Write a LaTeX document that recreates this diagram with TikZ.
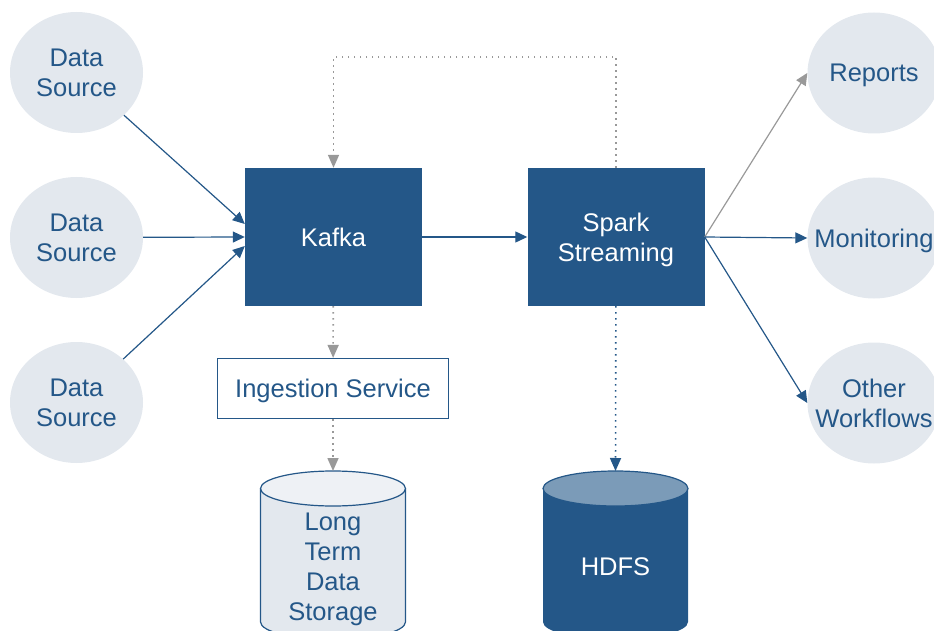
\documentclass[tikz,border=0pt]{standalone}
\usepackage{fontspec}
\setmainfont{Liberation Sans}
\usetikzlibrary{shapes.geometric,arrows.meta}

\definecolor{kblue}{HTML}{245788}
\definecolor{kpale}{HTML}{E3E8EE}
\definecolor{kpaletop}{HTML}{EEF1F5}
\definecolor{ktop}{HTML}{7B9BB8}
\definecolor{kgray}{HTML}{999999}

\tikzset{
  bubble/.style={ellipse, fill=kpale, minimum width=133pt, minimum height=121pt, inner xsep=-30pt, inner ysep=0pt, text depth=0pt, align=center, text=kblue},
  darkbox/.style={rectangle, fill=kblue, minimum width=177pt, minimum height=138pt, inner sep=0pt, text depth=0pt, align=center, text=white},
  flow/.style={draw=kblue, line width=1.2pt, -{Triangle[length=12pt,width=11pt]}},
  dotflow/.style={draw=kgray, line width=1.6pt, dash pattern=on 1.4pt off 4.6pt, -{Triangle[length=13pt,width=11pt]}}
}

\begin{document}
\begin{tikzpicture}[x=1pt, y=-1pt, font=\fontsize{25.5}{30}\selectfont]
        \useasboundingbox (0,0) rectangle (934,631);

        % sources and sinks
        \node[bubble] (src1) at (76.5, 72.5) {Data\\Source};
        \node[bubble] (src2) at (76.5, 237.5) {Data\\Source};
        \node[bubble] (src3) at (76.5, 402.5) {Data\\Source};
        \node[bubble] (rep) at (874, 73) {Reports};
        \node[bubble] (mon) at (874, 238) {Monitoring};
        \node[bubble] (wf) at (874, 403) {Other\\Workflows};

        \node[darkbox] (kafka) at (333.5, 237) {Kafka};
        \node[darkbox] (spark) at (616, 237) {Spark\\Streaming};
        \node[rectangle, draw=kblue, line width=1.2pt, minimum width=231pt, minimum height=60pt, text depth=0pt, text=kblue] (ingest) at (333, 388.5) {Ingestion Service};

        % long term storage
        \filldraw[draw=kblue, fill=kpale, line width=1.2pt] (260.5, 488.5) -- (260.5, 622) arc[start angle=180, end angle=360, x radius=72.5pt, y radius=17.5pt] -- (405.5, 488.5);
        \filldraw[draw=kblue, fill=kpaletop, line width=1.2pt] (333, 488.5) ellipse[x radius=72.5pt, y radius=17.5pt];
        \coordinate (ltds) at (333, 471);
        \node[text=kblue, align=center] (ltdstext) at (333, 569) {Long\\Term\\Data\\Storage};

        % hdfs
        \fill[kblue] (543, 488.5) -- (543, 622) arc[start angle=180, end angle=360, x radius=72.5pt, y radius=17.5pt] -- (688, 488.5) -- cycle;
        \filldraw[draw=kblue, fill=ktop, line width=1.2pt] (615.5, 488.5) ellipse[x radius=72.5pt, y radius=17.5pt];
        \coordinate (hdfs) at (615.5, 471);
        \node[text=white, text depth=0pt] (hdfstext) at (615.5, 567) {HDFS};

        \draw[flow] (src1) -- ([yshift=13pt]kafka.west);
        \draw[flow] (src2) -- (kafka.west);
        \draw[flow] (src3) -- ([yshift=-9pt]kafka.west);
        \draw[flow] (kafka) -- (spark);
        \draw[flow, draw=kgray] (spark.east) -- (rep.west);
        \draw[flow] (spark.east) -- (mon.west);
        \draw[flow] (spark.east) -- (wf.west);

        \draw[dotflow] (spark.north) -- ++(0, -111) -| (kafka.north);
        \draw[dotflow] (kafka) -- (ingest);
        \draw[dotflow] (ingest) -- (ltds);
        \draw[dotflow, draw=kblue] (spark) -- (hdfs);
    \end{tikzpicture}
\end{document}
